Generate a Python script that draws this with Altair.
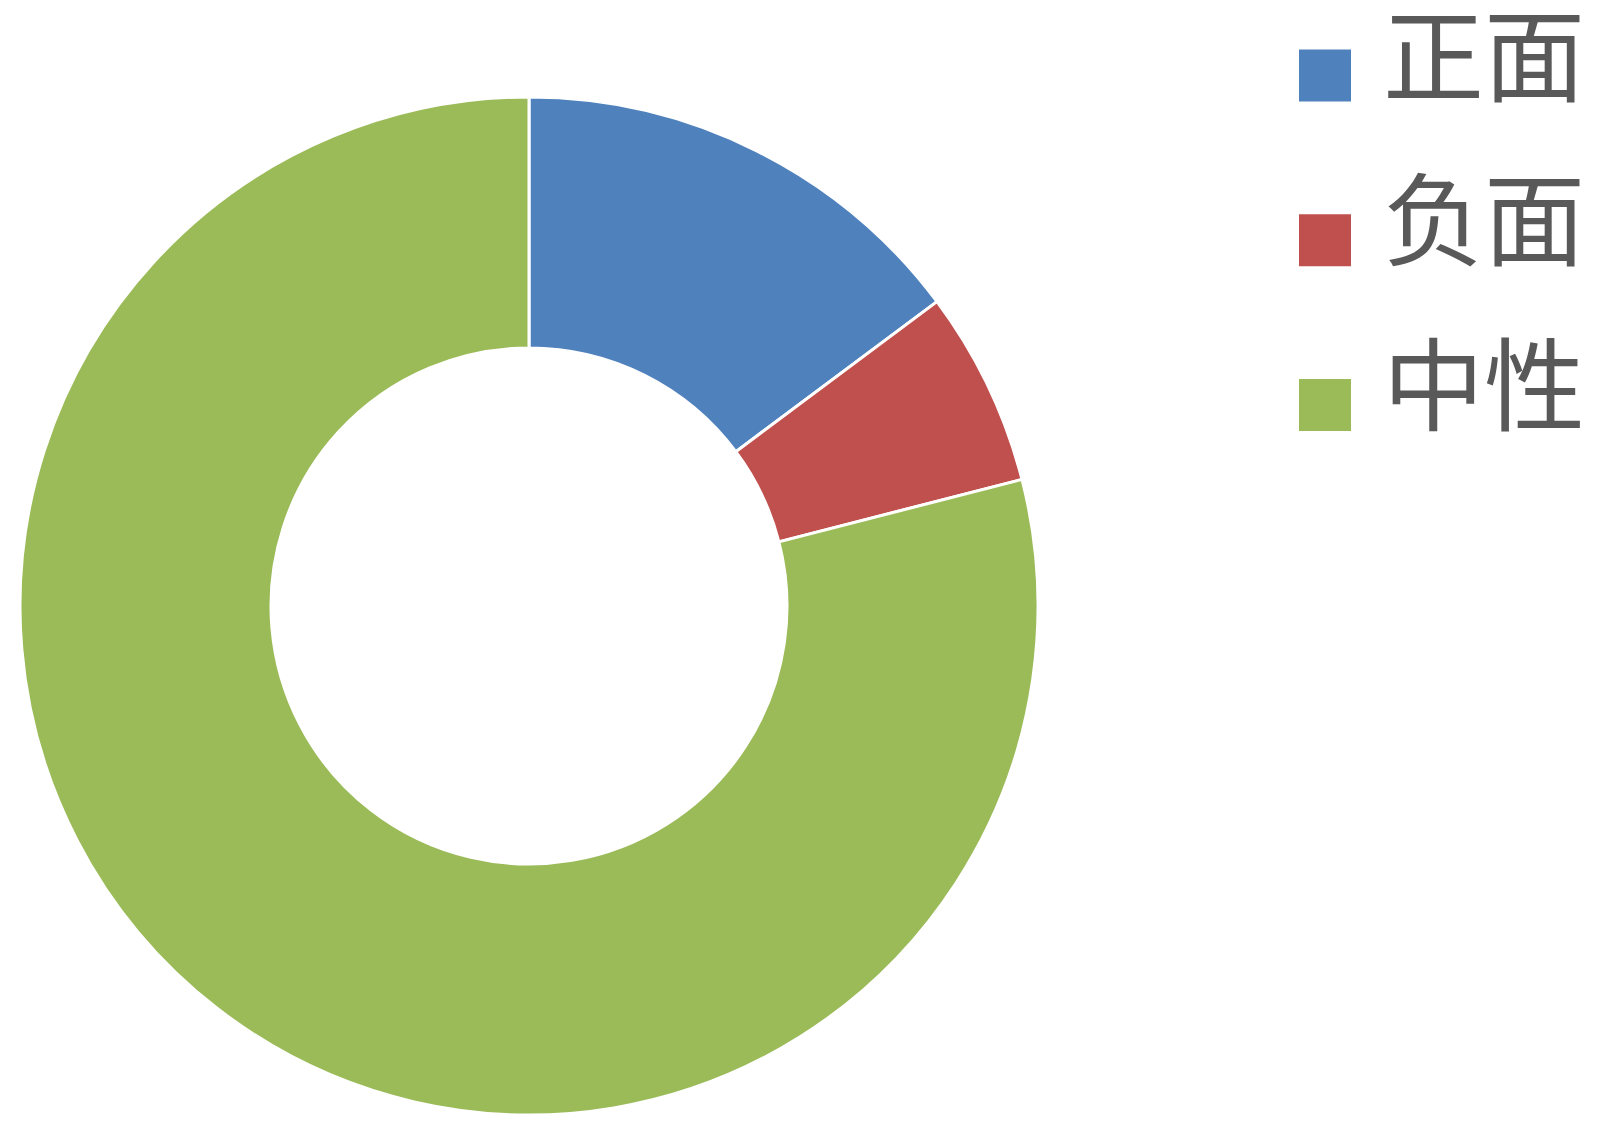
import altair as alt
import pandas as pd

categories = ["正面", "负面", "中性"]
values = [14.8, 6.2, 79.0]
colors = ["#4F81BD", "#C0504D", "#9BBB59"]

df = pd.DataFrame({"类别": categories, "值": values, "序": list(range(len(categories)))})

color = alt.Color(
    "类别:N",
    scale=alt.Scale(domain=categories, range=colors),
    legend=None,
)

arc = (
    alt.Chart(df)
    .mark_arc(outerRadius=509, innerRadius=258, stroke="white", strokeWidth=3)
    .encode(
        theta=alt.Theta("值:Q", stack=True),
        color=color,
        order=alt.Order("序:Q"),
        x=alt.value(521),
        y=alt.value(598),
    )
)

legend_y = alt.Y(
    "类别:N",
    scale=alt.Scale(type="point", domain=categories, range=[67.5, 397], padding=0),
    axis=None,
)

legend_sq = (
    alt.Chart(df)
    .mark_square(size=2704, opacity=1, strokeWidth=0)
    .encode(x=alt.value(1317), y=legend_y, color=color)
)

legend_txt = (
    alt.Chart(df)
    .mark_text(
        align="left",
        baseline="middle",
        dy=-12,
        fontSize=101,
        font="Noto Sans CJK SC",
        color="#595959",
    )
    .encode(x=alt.value(1375), y=legend_y, text="类别:N")
)

chart = (
    alt.layer(arc, legend_sq, legend_txt)
    .properties(width=1584, height=1106, padding=0, autosize="none")
    .configure_view(stroke=None)
)

chart.save("out.html", embed_options={"renderer": "svg", "actions": False})
